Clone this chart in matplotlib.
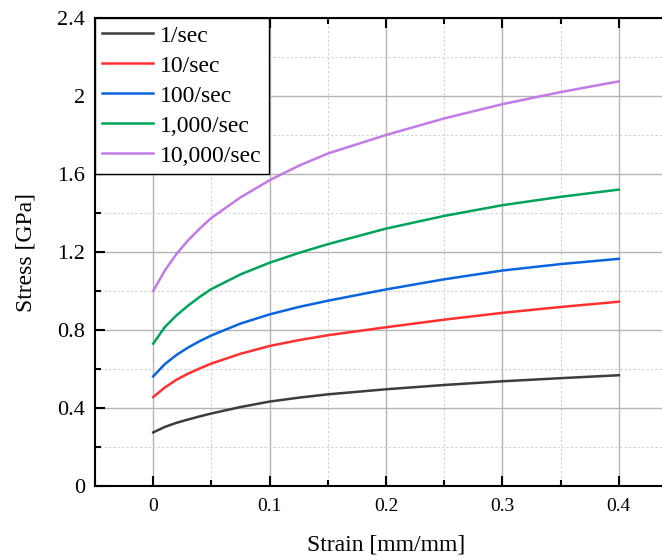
import matplotlib
matplotlib.use("Agg")
from matplotlib import pyplot as plt
from matplotlib.ticker import MultipleLocator
import numpy as np

plt.rcParams['font.family'] = ['Liberation Serif', 'DejaVu Serif']

# strain points (mm/mm) and stress (GPa) for each strain rate
strain = [0, 0.01, 0.02, 0.03, 0.04, 0.05, 0.075, 0.1, 0.125, 0.15, 0.2, 0.25, 0.3, 0.35, 0.4]
stress_1 = [0.275, 0.303, 0.324, 0.341, 0.357, 0.372, 0.405, 0.433, 0.453, 0.47,
            0.496, 0.518, 0.537, 0.553, 0.568]
stress_10 = [0.456, 0.505, 0.545, 0.576, 0.603, 0.628, 0.678, 0.718, 0.748, 0.773,
             0.814, 0.853, 0.888, 0.918, 0.945]
stress_100 = [0.562, 0.625, 0.672, 0.71, 0.743, 0.772, 0.833, 0.88, 0.918, 0.95,
              1.008, 1.06, 1.105, 1.138, 1.165]
stress_1000 = [0.73, 0.815, 0.875, 0.925, 0.97, 1.01, 1.085, 1.145, 1.195, 1.24,
               1.32, 1.385, 1.44, 1.483, 1.52]
stress_10000 = [1.0, 1.105, 1.19, 1.26, 1.32, 1.375, 1.48, 1.568, 1.642, 1.705,
                1.80, 1.885, 1.958, 2.02, 2.075]

labels = ["1/sec", "10/sec", "100/sec", "1,000/sec", "10,000/sec"]
colors = ["#3c3c3c", "#ff3030", "#0a64e0", "#00a35a", "#c27be6"]
series = [stress_1, stress_10, stress_100, stress_1000, stress_10000]

fig = plt.figure(figsize=(6.62, 5.56), dpi=100)
ax = fig.add_axes([95 / 662, 70 / 556, 582 / 662, 468 / 556])

for s, c, lab in zip(series, colors, labels):
    ax.plot(strain, s, color=c, lw=1.8, label=lab, zorder=3)

ax.set_xlim(-0.05, 0.45)
ax.set_ylim(0, 2.4)
ax.xaxis.set_major_locator(MultipleLocator(0.1))
ax.xaxis.set_minor_locator(MultipleLocator(0.05))
ax.yaxis.set_major_locator(MultipleLocator(0.4))
ax.yaxis.set_minor_locator(MultipleLocator(0.2))
ax.set_xticks([0, 0.1, 0.2, 0.3, 0.4])
ax.set_xticklabels(["0", "0.1", "0.2", "0.3", "0.4"])
ax.set_yticks([0, 0.4, 0.8, 1.2, 1.6, 2, 2.4])
ax.set_yticklabels(["0", "0.4", "0.8", "1.2", "1.6", "2", "2.4"])

ax.grid(which='major', color='#b4b4b4', lw=1.0, ls='-', zorder=0)
ax.grid(which='minor', color='#d0d0d0', lw=0.8, ls=(0, (2, 2)), zorder=0)

ax.tick_params(which='both', direction='in', top=True, right=False, width=1.5)
ax.tick_params(axis='x', labelsize=14, pad=8.5)
ax.tick_params(axis='y', labelsize=16, pad=7)
ax.tick_params(which='major', length=7)
ax.tick_params(which='minor', length=4)
for side in ['left', 'bottom', 'top']:
    ax.spines[side].set_linewidth(1.5)
ax.spines['right'].set_visible(False)

ax.set_xlabel("Strain [mm/mm]", fontsize=17, labelpad=14)
ax.set_ylabel("Stress [GPa]", fontsize=17, labelpad=15)

leg = ax.legend(loc='upper left', borderaxespad=0, fontsize=17, handlelength=2.15,
                labelspacing=0.36, handletextpad=0.3, borderpad=0.3, fancybox=False,
                framealpha=1)
leg.get_frame().set_edgecolor('black')
leg.get_frame().set_linewidth(1.0)

fig.savefig("out.png", dpi=100)
